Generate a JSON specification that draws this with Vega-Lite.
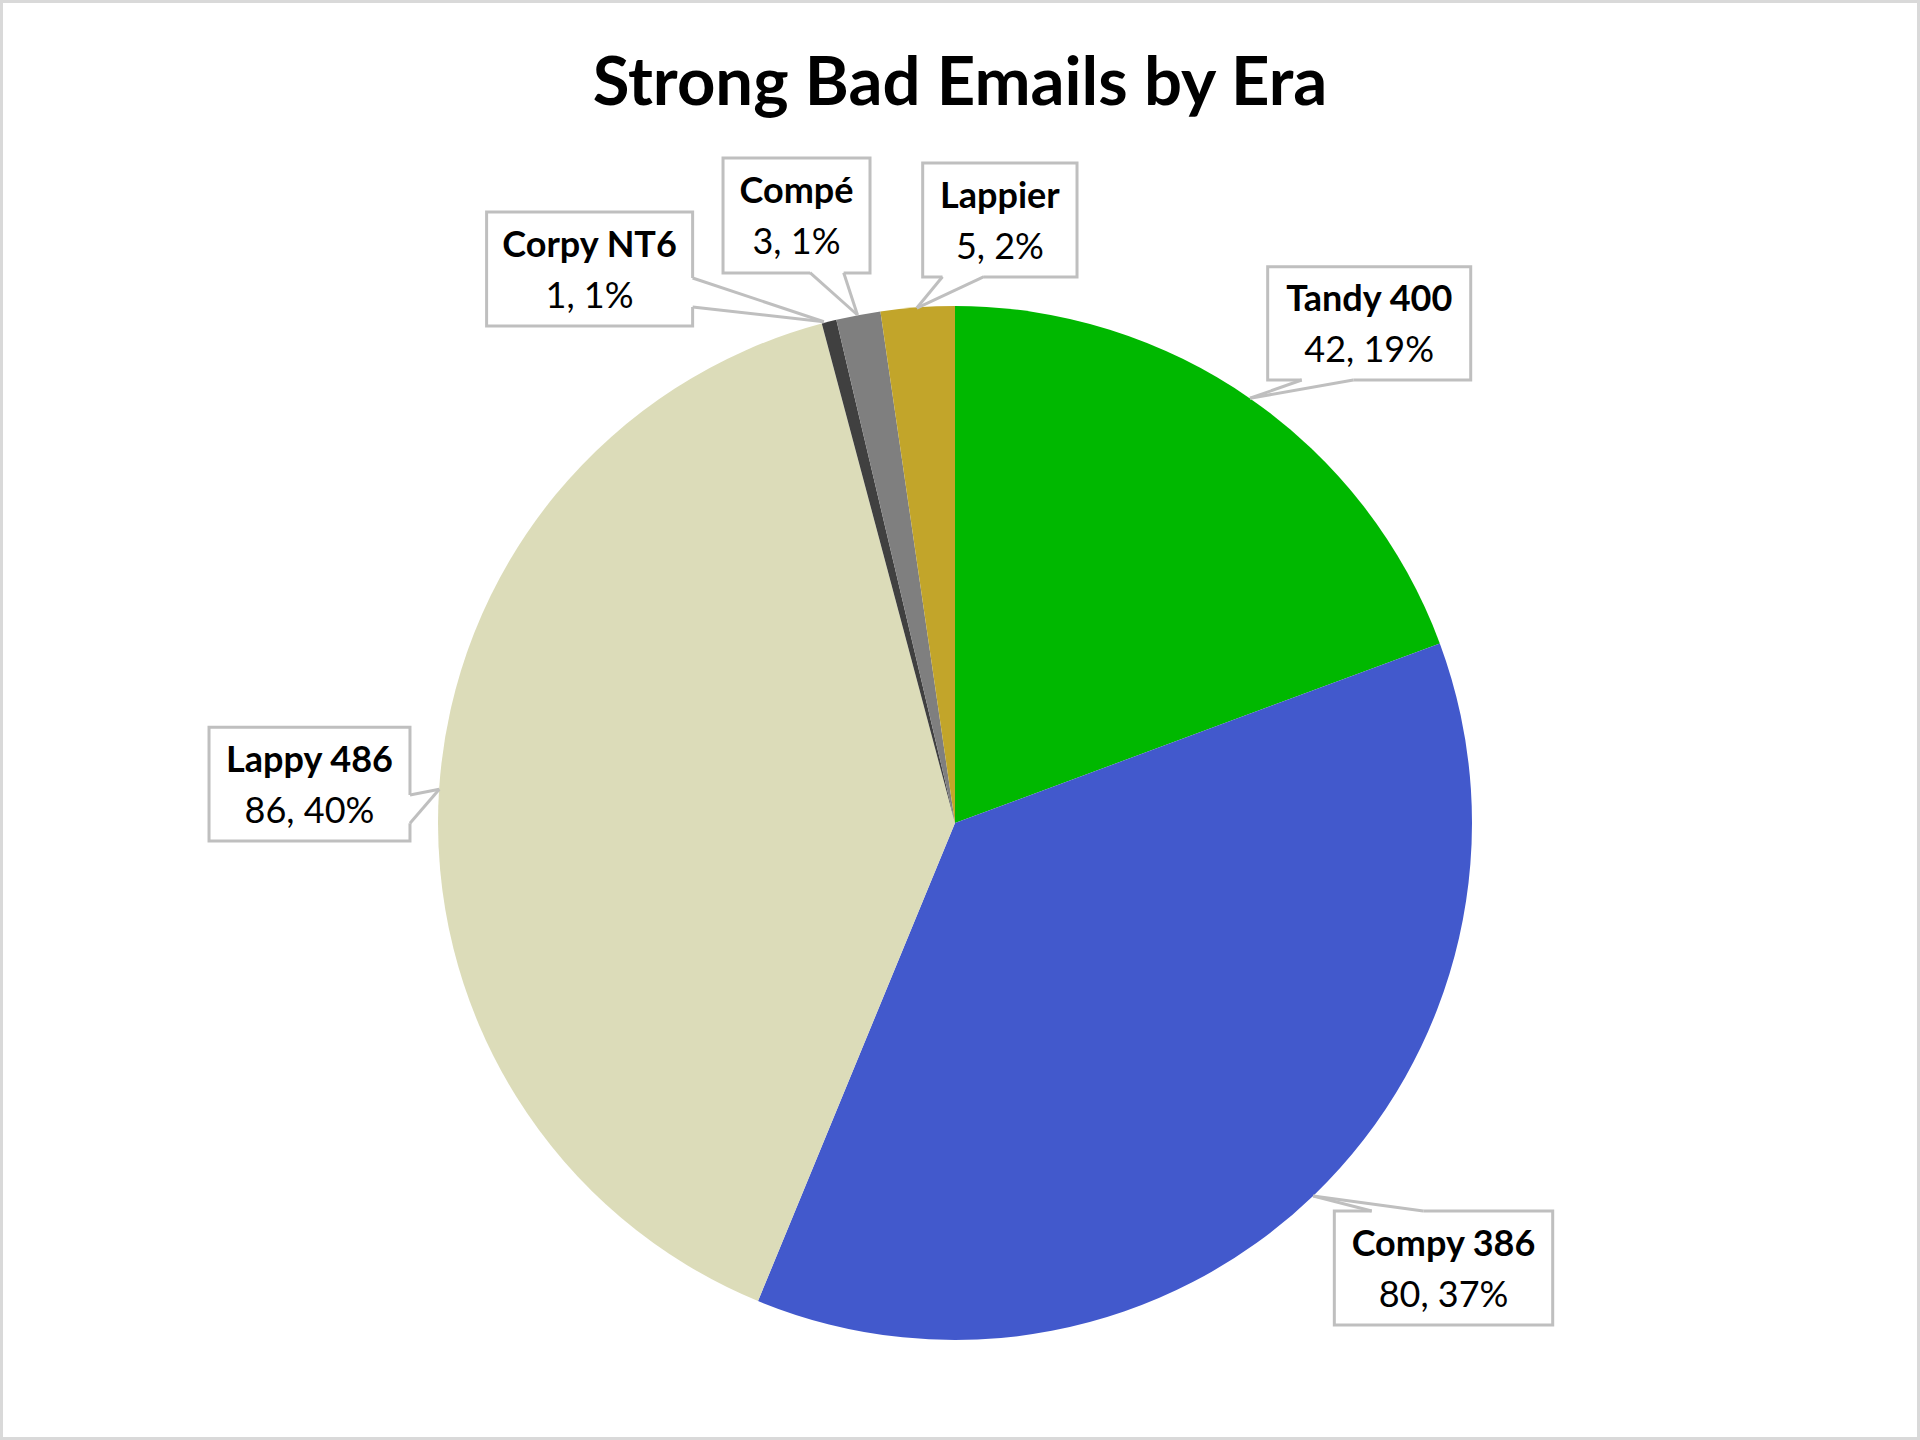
{
  "$schema": "https://vega.github.io/schema/vega-lite/v6.json",
  "description": "Strong Bad Emails by Era",
  "width": 1920,
  "height": 1440,
  "autosize": {"type": "none"},
  "padding": 0,
  "background": "white",
  "title": {
    "text": "Strong Bad Emails by Era",
    "font": "Lato",
    "fontSize": 67,
    "fontWeight": "bold",
    "color": "black",
    "anchor": "middle",
    "frame": "group",
    "baseline": "alphabetic",
    "offset": -172
  },
  "datasets": {
    "emails": [
      {"era": "Tandy 400", "emails": 42, "idx": 1},
      {"era": "Compy 386", "emails": 80, "idx": 2},
      {"era": "Lappy 486", "emails": 86, "idx": 3},
      {"era": "Corpy NT6", "emails": 1, "idx": 4},
      {"era": "Compé", "emails": 3, "idx": 5},
      {"era": "Lappier", "emails": 5, "idx": 6}
    ],
    "callouts": [
      {"era": "Tandy 400", "detail": "42, 19%", "x1": 0.6048, "x2": 0.9975, "y1": 1.076, "y2": 0.8569, "cx": 0.8012, "cy": 0.9665, "b1x": 0.6706, "b1y": 0.8569, "b2x": 0.7704, "b2y": 0.8569, "tx": 0.5706, "ty": 0.8215},
      {"era": "Compy 386", "detail": "80, 37%", "x1": 0.7337, "x2": 1.1561, "y1": -0.7505, "y2": -0.971, "cx": 0.9449, "cy": -0.8607, "b1x": 0.806, "b1y": -0.7505, "b2x": 0.9058, "b2y": -0.7505, "tx": 0.693, "ty": -0.7215},
      {"era": "Lappy 486", "detail": "86, 40%", "x1": -1.4429, "x2": -1.0542, "y1": 0.1851, "y2": -0.0348, "cx": -1.2486, "cy": 0.0752, "b1x": -1.0542, "b1y": 0.0542, "b2x": -1.0542, "b2y": -0.0006, "tx": -0.9975, "ty": 0.0652},
      {"era": "Corpy NT6", "detail": "1, 1%", "x1": -0.906, "x2": -0.5075, "y1": 1.1818, "y2": 0.9613, "cx": -0.7068, "cy": 1.0716, "b1x": -0.5075, "b1y": 1.0542, "b2x": -0.5075, "b2y": 0.9981, "tx": -0.2536, "ty": 0.9696},
      {"era": "Compé", "detail": "3, 1%", "x1": -0.4487, "x2": -0.1644, "y1": 1.2863, "y2": 1.0638, "cx": -0.3066, "cy": 1.1751, "b1x": -0.2805, "b1y": 1.0644, "b2x": -0.2153, "b2y": 1.0644, "tx": -0.1886, "ty": 0.9826},
      {"era": "Lappier", "detail": "5, 2%", "x1": -0.0625, "x2": 0.236, "y1": 1.2766, "y2": 1.0561, "cx": 0.0868, "cy": 1.1664, "b1x": -0.0242, "b1y": 1.0567, "b2x": 0.0561, "b2y": 1.0567, "tx": -0.0739, "ty": 0.9961}
    ]
  },
  "layer": [
    {
      "data": {"name": "emails"},
      "mark": {"type": "arc", "outerRadius": 517},
      "encoding": {
        "x": {"datum": 0, "type": "quantitative", "scale": {"domain": [-1.8472, 1.86654], "nice": false, "zero": false}, "axis": null},
        "y": {"datum": 0, "type": "quantitative", "scale": {"domain": [-1.19342, 1.59188], "nice": false, "zero": false}, "axis": null},
        "theta": {"field": "emails", "type": "quantitative", "stack": true},
        "order": {"field": "idx", "type": "quantitative"},
        "color": {
          "field": "era",
          "type": "nominal",
          "scale": {
            "domain": ["Tandy 400", "Compy 386", "Lappy 486", "Corpy NT6", "Compé", "Lappier"],
            "range": ["#00b800", "#4259cc", "#dcdcb9", "#404040", "#7f7f7f", "#c2a52a"]
          },
          "legend": null
        }
      }
    },
    {
      "data": {"name": "callouts"},
      "mark": {"type": "rect", "fill": "white", "stroke": "#bfbfbf", "strokeWidth": 3},
      "encoding": {
        "x": {"field": "x1", "type": "quantitative", "scale": {"domain": [-1.8472, 1.86654], "nice": false, "zero": false}, "axis": null},
        "x2": {"field": "x2"},
        "y": {"field": "y1", "type": "quantitative", "scale": {"domain": [-1.19342, 1.59188], "nice": false, "zero": false}, "axis": null},
        "y2": {"field": "y2"}
      }
    },
    {
      "data": {"name": "callouts"},
      "mark": {"type": "rule", "stroke": "white", "strokeWidth": 5},
      "encoding": {
        "x": {"field": "b1x", "type": "quantitative", "scale": {"domain": [-1.8472, 1.86654], "nice": false, "zero": false}, "axis": null},
        "x2": {"field": "b2x"},
        "y": {"field": "b1y", "type": "quantitative", "scale": {"domain": [-1.19342, 1.59188], "nice": false, "zero": false}, "axis": null},
        "y2": {"field": "b2y"}
      }
    },
    {
      "data": {"name": "callouts"},
      "mark": {"type": "rule", "stroke": "#bfbfbf", "strokeWidth": 3},
      "encoding": {
        "x": {"field": "b1x", "type": "quantitative", "scale": {"domain": [-1.8472, 1.86654], "nice": false, "zero": false}, "axis": null},
        "x2": {"field": "tx"},
        "y": {"field": "b1y", "type": "quantitative", "scale": {"domain": [-1.19342, 1.59188], "nice": false, "zero": false}, "axis": null},
        "y2": {"field": "ty"}
      }
    },
    {
      "data": {"name": "callouts"},
      "mark": {"type": "rule", "stroke": "#bfbfbf", "strokeWidth": 3},
      "encoding": {
        "x": {"field": "b2x", "type": "quantitative", "scale": {"domain": [-1.8472, 1.86654], "nice": false, "zero": false}, "axis": null},
        "x2": {"field": "tx"},
        "y": {"field": "b2y", "type": "quantitative", "scale": {"domain": [-1.19342, 1.59188], "nice": false, "zero": false}, "axis": null},
        "y2": {"field": "ty"}
      }
    },
    {
      "data": {"name": "callouts"},
      "mark": {"type": "text", "font": "Lato", "fontSize": 36, "fontWeight": "bold", "color": "black", "align": "center", "baseline": "alphabetic", "dy": -12},
      "encoding": {
        "x": {"field": "cx", "type": "quantitative", "scale": {"domain": [-1.8472, 1.86654], "nice": false, "zero": false}, "axis": null},
        "y": {"field": "cy", "type": "quantitative", "scale": {"domain": [-1.19342, 1.59188], "nice": false, "zero": false}, "axis": null},
        "text": {"field": "era"}
      }
    },
    {
      "data": {"name": "callouts"},
      "mark": {"type": "text", "font": "Lato", "fontSize": 36, "color": "black", "align": "center", "baseline": "alphabetic", "dy": 39},
      "encoding": {
        "x": {"field": "cx", "type": "quantitative", "scale": {"domain": [-1.8472, 1.86654], "nice": false, "zero": false}, "axis": null},
        "y": {"field": "cy", "type": "quantitative", "scale": {"domain": [-1.19342, 1.59188], "nice": false, "zero": false}, "axis": null},
        "text": {"field": "detail"}
      }
    }
  ],
  "config": {
    "view": {"stroke": "#d9d9d9", "strokeWidth": 6}
  }
}
